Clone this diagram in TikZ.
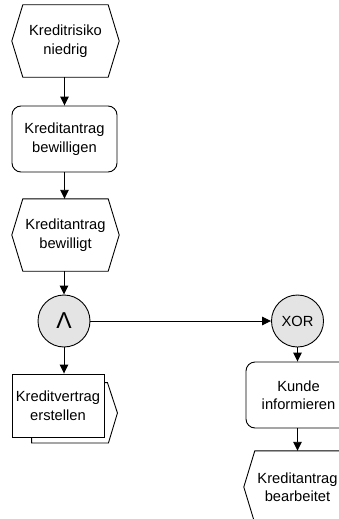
\documentclass[tikz,border=0pt]{standalone}
\usepackage{fontspec}
\setmainfont{Liberation Sans}
\usetikzlibrary{calc,arrows.meta}

\definecolor{gatefill}{RGB}{228,228,228}

\tikzset{
  line/.style={line width=0.9pt, draw=black},
  flow/.style={line, -{Triangle[length=9pt,width=8.5pt]}},
  lbl/.style={font=\fontsize{14.7}{18.5}\selectfont, align=center, inner sep=0pt},
  eventbox/.style={lbl, minimum width=85pt, minimum height=72pt},
  funcbox/.style={lbl, line, rounded corners=9pt, minimum width=105pt, minimum height=66pt},
  taskbox/.style={lbl, line, fill=white, minimum width=92pt, minimum height=63pt},
  gate/.style={circle, line, fill=gatefill, minimum size=52pt, inner sep=0pt},
}

% hexagonal event outline around a named node
\newcommand\eventshape[1]{%
  \draw[line] (#1.north west) -- (#1.north east) -- ($(#1.east)+(11,0)$)
    -- (#1.south east) -- (#1.south west) -- ($(#1.west)+(-11,0)$) -- cycle;}

\begin{document}
\begin{tikzpicture}[x=1pt,y=-1pt]
  \useasboundingbox (0,0) rectangle (339,519);
  \clip (0,0) rectangle (339,519);

  % left column
  \node[eventbox] (e1) at (65.5,41) {Kreditrisiko\\niedrig};
  \eventshape{e1}
  \node[funcbox] (f1) at (64.5,139) {Kreditantrag\\bewilligen};
  \node[eventbox] (e2) at (65.5,235) {Kreditantrag\\bewilligt};
  \eventshape{e2}
  \node[gate, font=\fontsize{23}{23}\selectfont] (and) at (64,321) {Λ};
  \node[taskbox] (kv) at (58,405.5) {Kreditvertrag\\erstellen};
  % stacked process symbol behind the task box
  \draw[line] ($(kv.north east)+(0,9)$) -- ($(kv.north east)+(3,9)$)
    -- ($(kv.east)+(13,7.5)$) -- ($(kv.south east)+(4,5.5)$)
    -- ($(kv.south west)+(20,5.5)$) -- ($(kv.south west)+(20,0)$);

  % right column
  \node[gate, lbl] (xor) at (297.5,321) {XOR};
  \node[funcbox] (f2) at (298.5,395) {Kunde\\informieren};
  \node[eventbox] (e3) at (297.5,487) {Kreditantrag\\bearbeitet};
  \eventshape{e3}

  % connectors
  \draw[flow] (e1.south -| f1.north) -- (f1.north);
  \draw[flow] (f1.south) -- (f1.south |- e2.north);
  \draw[flow] (e2.south -| and.north) -- (and.north);
  \draw[flow] (and.south) -- (and.south |- kv.north);
  \draw[flow] (and.east) -- (xor.west);
  \draw[flow] (xor.south) -- (xor.south |- f2.north);
  \draw[flow] (f2.south -| xor.south) -- (xor.south |- e3.north);
\end{tikzpicture}
\end{document}
